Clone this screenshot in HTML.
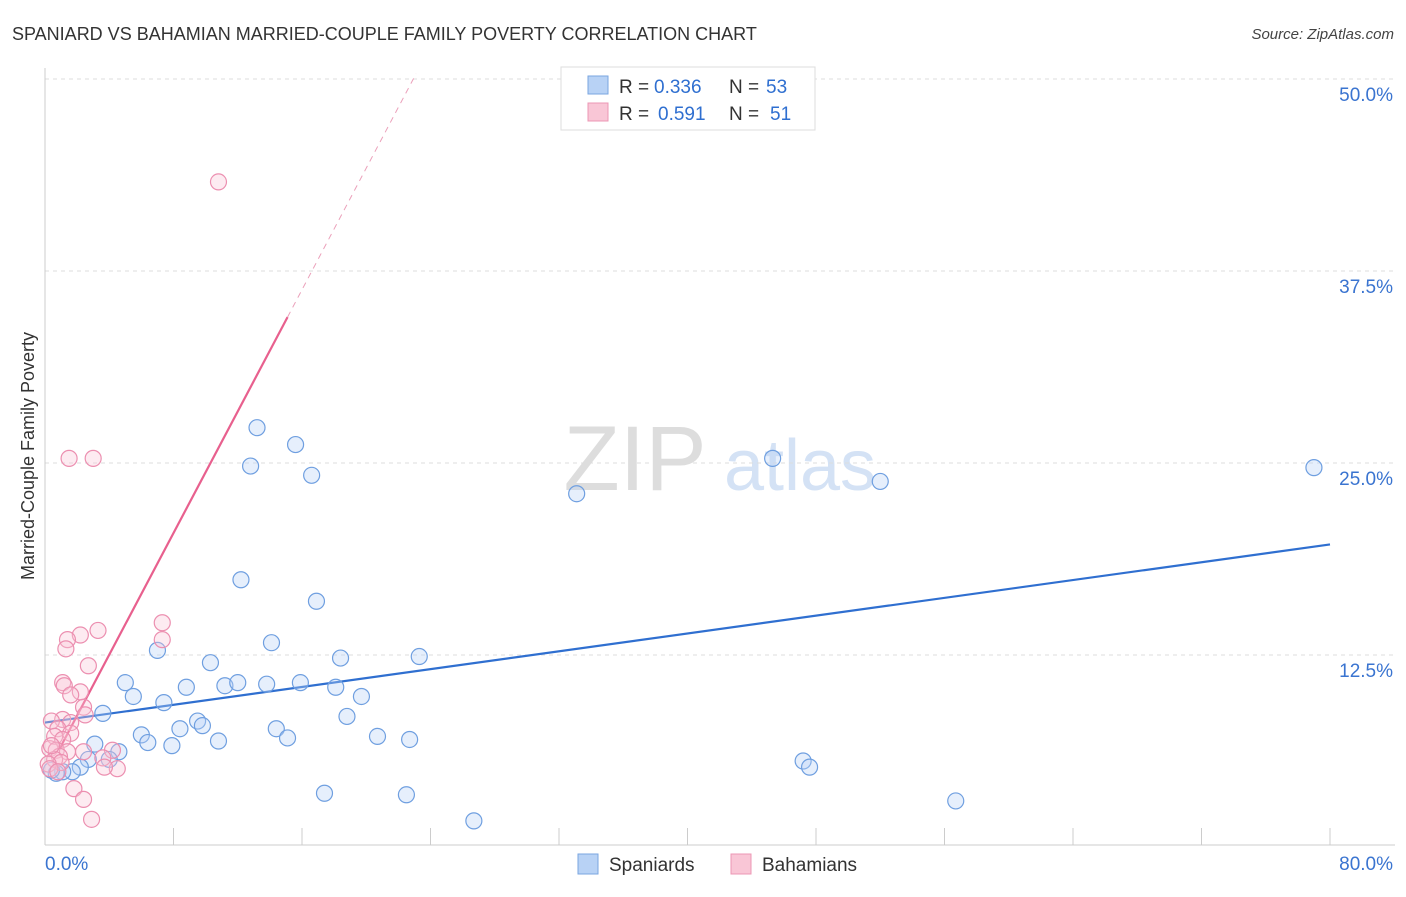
<!DOCTYPE html>
<html><head><meta charset="utf-8"><style>
body{margin:0;background:#fff;font-family:"Liberation Sans",sans-serif;}
svg text{font-family:"Liberation Sans",sans-serif;}
</style></head><body>
<svg id="chart" width="1406" height="892" viewBox="0 0 1406 892" xmlns="http://www.w3.org/2000/svg">
<text x="12" y="40" font-size="18" fill="#333">SPANIARD VS BAHAMIAN MARRIED-COUPLE FAMILY POVERTY CORRELATION CHART</text>
<text x="1394" y="39" font-size="15" fill="#444" text-anchor="end" font-style="italic">Source: ZipAtlas.com</text>
<text transform="translate(34,456) rotate(-90)" font-size="18" fill="#333" text-anchor="middle">Married-Couple Family Poverty</text>
<g>
<text x="635" y="490" font-size="92" fill="#ddd" text-anchor="middle" font-family="Liberation Serif, serif">ZIP</text>
<text x="800" y="490" font-size="72" fill="#d4e2f5" text-anchor="middle">atlas</text>
</g>
<g id="grid"></g><g id="axes"></g><g id="lines"></g><g id="pts"></g>
<g>
<rect x="561" y="67" width="254" height="63" fill="#fff" stroke="#ddd"/>
<rect x="588" y="76" width="20" height="18" fill="#b8d2f5" stroke="#7aa6e0"/>
<rect x="588" y="103" width="20" height="18" fill="#f9c6d6" stroke="#ec97b4"/>
<text x="619" y="93" font-size="19" fill="#333">R =</text>
<text x="654" y="93" font-size="19" fill="#2f6fd0">0.336</text>
<text x="729" y="93" font-size="19" fill="#333">N =</text>
<text x="766" y="93" font-size="19" fill="#2f6fd0">53</text>
<text x="619" y="120" font-size="19" fill="#333">R =</text>
<text x="658" y="120" font-size="19" fill="#2f6fd0">0.591</text>
<text x="729" y="120" font-size="19" fill="#333">N =</text>
<text x="770" y="120" font-size="19" fill="#2f6fd0">51</text>
</g>
<g>
<rect x="578" y="854" width="20" height="20" fill="#b8d2f5" stroke="#7aa6e0"/>
<text x="609" y="871" font-size="19" fill="#333">Spaniards</text>
<rect x="731" y="854" width="20" height="20" fill="#f9c6d6" stroke="#ec97b4"/>
<text x="762" y="871" font-size="19" fill="#333">Bahamians</text>
</g>
</svg>
<script>
const yTicks=[12.5,25,37.5,50];
const yTickLabels=["12.5%","25.0%","37.5%","50.0%"];
const xTickLabels=["0.0%","80.0%"];
const spaniardX=[13.2,15.6,12.8,16.6,33.1,45.3,52.0,79.0,12.2,16.9,14.1,7.0,10.3,18.4,23.3,5.0,8.8,11.2,12.0,13.8,15.9,18.1,5.5,7.4,19.7,3.6,18.8,9.5,8.4,9.8,14.4,6.0,6.4,7.9,10.8,15.1,20.7,22.7,3.1,4.6,4.0,2.7,47.2,47.6,2.2,1.7,1.1,0.7,0.4,17.4,22.5,56.7,26.7];
const spaniardY=[27.3,26.2,24.8,24.2,23.0,25.3,23.8,24.7,17.4,16.0,13.3,12.8,12.0,12.3,12.4,10.7,10.4,10.5,10.7,10.6,10.7,10.4,9.8,9.4,9.8,8.7,8.5,8.2,7.7,7.9,7.7,7.3,6.8,6.6,6.9,7.1,7.2,7.0,6.7,6.2,5.7,5.7,5.6,5.2,5.2,4.9,4.9,4.8,5.0,3.5,3.4,3.0,1.7];
const bahamianX=[10.8,1.5,3.0,7.3,3.3,7.3,2.2,1.4,1.3,2.7,1.1,1.2,2.2,1.6,2.4,2.5,1.1,0.4,1.6,0.8,1.6,0.6,1.1,0.3,0.7,1.4,2.4,4.2,3.6,0.9,0.6,1.0,0.2,4.5,3.7,0.3,0.8,1.8,2.4,2.9,0.4];
const bahamianY=[43.3,25.3,25.3,14.6,14.1,13.5,13.8,13.5,12.9,11.8,10.7,10.5,10.1,9.9,9.1,8.6,8.3,8.2,8.1,7.7,7.4,7.2,7.0,6.4,6.3,6.2,6.2,6.3,5.8,5.9,5.7,5.5,5.4,5.1,5.2,5.1,4.9,3.8,3.1,1.8,6.6];
const blueLine=[8.1,19.7];
const pinkIntercept=4.6, pinkSlope=1.98, pinkSolidEnd=15.1, pinkDashEnd=23.1;

const NS="http://www.w3.org/2000/svg";
const X=v=>45+v*(1285/80);
const Y=v=>847-v*15.36;
function mk(tag,attrs,parent){const e=document.createElementNS(NS,tag);for(const k in attrs)e.setAttribute(k,attrs[k]);document.getElementById(parent).appendChild(e);return e;}
yTicks.forEach((t,i)=>{
 const g=mk('line',{x1:45,x2:1395,y1:Y(t),y2:Y(t),stroke:'#ddd','stroke-dasharray':'4,4'},'grid');
 
 
 const tx=mk('text',{x:1393,y:Y(t)+22,'font-size':19,fill:'#3a74d0','text-anchor':'end'},'grid');
 tx.textContent=yTickLabels[i];
 
 
});
let a=mk('line',{x1:45,x2:45,y1:68,y2:845,stroke:'#ccc'},'axes');


a=mk('line',{x1:45,x2:1395,y1:845,y2:845,stroke:'#ccc'},'axes');


for(let i=1;i<=10;i++){
 const t=mk('line',{x1:X(i*8),x2:X(i*8),y1:828,y2:845,stroke:'#ccc'},'axes');
 
 
}
[[0,'start',45],[80,'end',1393]].forEach((d,i)=>{
 const t=mk('text',{x:d[2],y:870,'font-size':19,fill:'#3a74d0','text-anchor':d[1]},'axes');
 t.textContent=xTickLabels[i];
 
 
});
function dots(xs,ys,fill,stroke,name){
 xs.forEach((x,i)=>{
  const c=mk('circle',{cx:X(x),cy:Y(ys[i]),r:8,fill:fill,'fill-opacity':0.35,stroke:stroke,'stroke-width':1.2},'pts');
  
  
 });
}
dots(spaniardX,spaniardY,'#b8d2f5','#6f9fe0','spaniard-point');
dots(bahamianX,bahamianY,'#f9c6d6','#ec8fb0','bahamian-point');
let l=mk('line',{x1:X(0),y1:Y(blueLine[0]),x2:X(80),y2:Y(blueLine[1]),stroke:'#2f6fd0','stroke-width':2.2},'lines');


l=mk('line',{x1:X(0.9),y1:Y(pinkIntercept+pinkSlope*0.9),x2:X(pinkSolidEnd),y2:Y(pinkIntercept+pinkSlope*pinkSolidEnd),stroke:'#e8608e','stroke-width':2.2},'lines');


l=mk('line',{x1:X(pinkSolidEnd),y1:Y(pinkIntercept+pinkSlope*pinkSolidEnd),x2:X(pinkDashEnd),y2:Y(pinkIntercept+pinkSlope*pinkDashEnd),stroke:'#eba0ba','stroke-width':1,'stroke-dasharray':'6,5'},'lines');


</script>
</body></html>
